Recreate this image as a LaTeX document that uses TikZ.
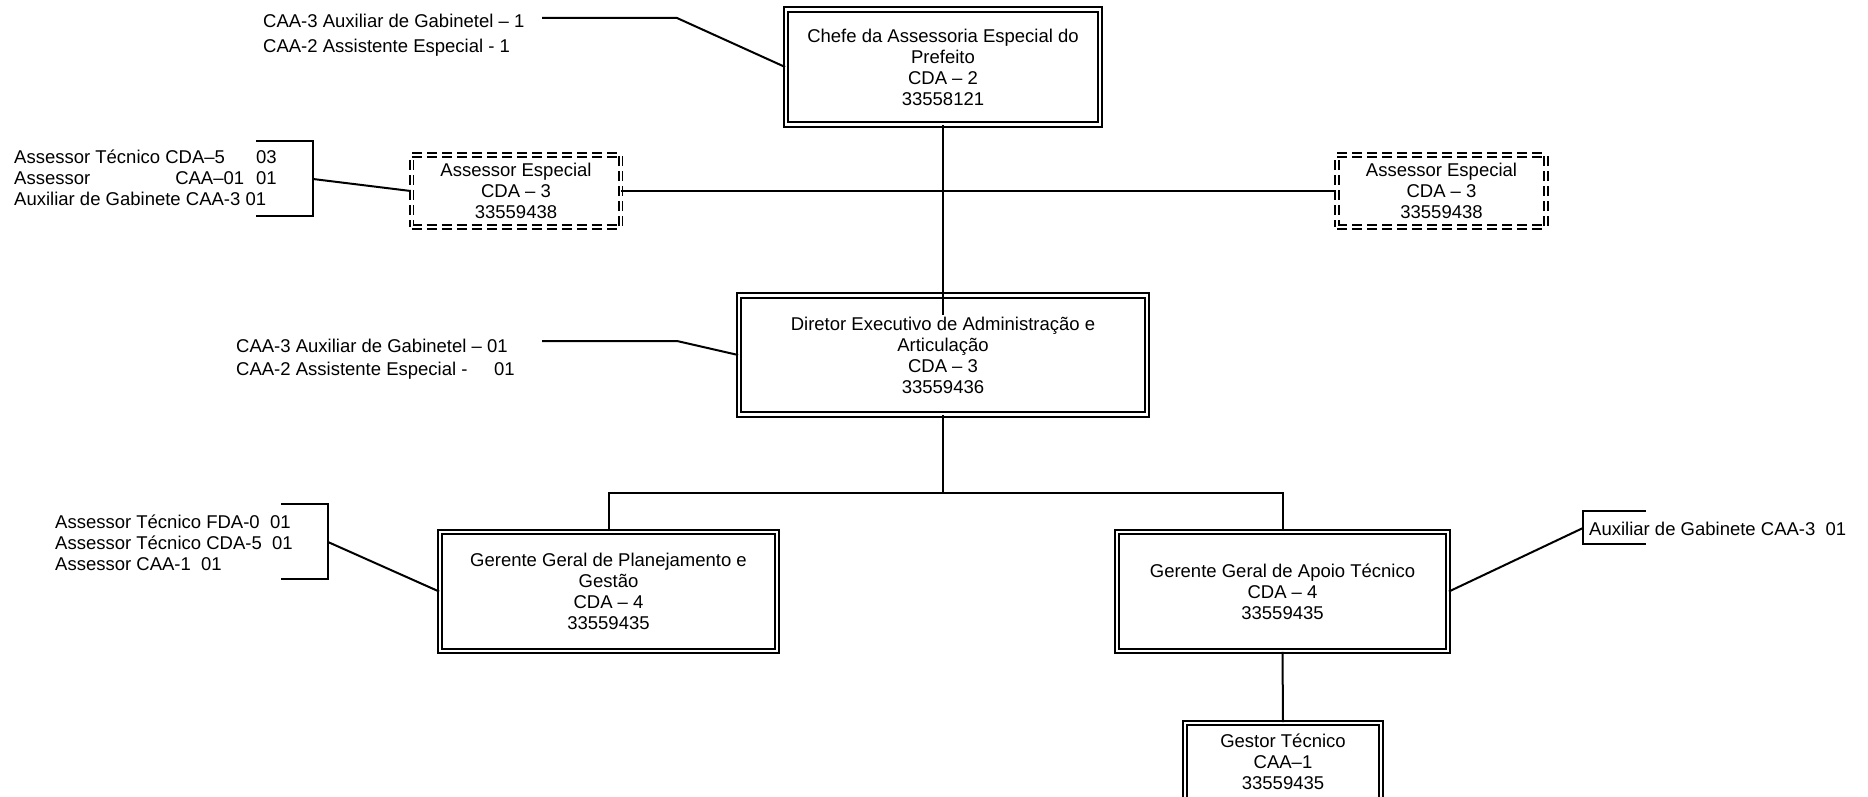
\documentclass[tikz,border=0pt]{standalone}
\usepackage{fontspec}
\setmainfont{Liberation Sans}
\begin{document}
\begin{tikzpicture}[x=1pt,y=-1pt,
  txt/.style={font=\fontsize{18.5}{21}\selectfont, inner sep=0pt},
  lbl/.style={txt, anchor=west},
  dbox/.style={txt, draw, double, double distance=2.6pt, line width=1.8pt, align=center, minimum width=#1},
  dashbox/.style={txt, draw, double, double distance=2pt, line width=1.6pt, dash pattern=on 10pt off 5pt, align=center, minimum width=209pt, minimum height=72pt},
  conn/.style={line width=2pt}]
\useasboundingbox (0,0) rectangle (1868,797);

% main boxes
\node[dbox=314pt, minimum height=115pt] (chief) at (943,67) {Chefe da Assessoria Especial do\\Prefeito\\CDA -- 2\\33558121};
\node[dbox=408pt, minimum height=119pt] (dir) at (943,355) {Diretor Executivo de Administração e\\Articulação\\CDA -- 3\\33559436};
\node[dbox=337pt, minimum height=119pt] (ggpg) at (608.5,591.5) {Gerente Geral de Planejamento e\\Gestão\\CDA -- 4\\33559435};
\node[dbox=331pt, minimum height=119pt] (ggat) at (1282.5,591.5) {Gerente Geral de Apoio Técnico\\CDA -- 4\\33559435};
\node[dbox=196pt, minimum height=78pt] (gestor) at (1283,762) {Gestor Técnico\\CAA--1\\33559435};

% dashed boxes
\node[dashbox] (ae1) at (516,191) {Assessor Especial\\CDA -- 3\\33559438};
\node[dashbox] (ae2) at (1441.5,191) {Assessor Especial\\CDA -- 3\\33559438};

% side labels
\node[lbl] (t1) at (263,21) {CAA-3 Auxiliar de Gabinetel -- 1};
\node[lbl] (t2) at (263,48) {CAA-2 Assistente Especial - 1};

\node[lbl] (l1) at (14,157) {\makebox[242pt][l]{Assessor Técnico CDA--5}03};
\node[lbl] (l2) at (14,178) {\makebox[230pt][l]{Assessor\hfill CAA--01}\hspace{12pt}01};
\node[lbl] (l3) at (14,199) {Auxiliar de Gabinete CAA-3\ 01};

\node[lbl] (d1) at (236,346) {CAA-3 Auxiliar de Gabinetel -- 01};
\node[lbl] (d2) at (236,371) {\makebox[258pt][l]{CAA-2 Assistente Especial -}01};

\node[lbl] (g1) at (55,522) {Assessor Técnico FDA-0\ \ 01};
\node[lbl] (g2) at (55,543) {Assessor Técnico CDA-5\ \ 01};
\node[lbl] (g3) at (55,564) {Assessor CAA-1\ \ 01};

\node[lbl] (r1) at (1589,529) {Auxiliar de Gabinete CAA-3\ \ 01};

% brackets and coordinates
\coordinate (b1a) at (256,141); \coordinate (b1b) at (313,141);
\coordinate (b1c) at (313,216); \coordinate (b1d) at (256,216);
\coordinate (b1m) at (313,179);
\coordinate (b3a) at (281,504); \coordinate (b3b) at (328,504);
\coordinate (b3c) at (328,579); \coordinate (b3d) at (281,579);
\coordinate (b3m) at (328,542);
\coordinate (r1a) at (1646,511); \coordinate (r1b) at (1583,511);
\coordinate (r1c) at (1583,544); \coordinate (r1d) at (1646,544);
\coordinate (r1m) at (1583,528);
\coordinate (tc0) at (542,18); \coordinate (tc1) at (677,18);
\coordinate (dc0) at (542,341); \coordinate (dc1) at (677,341);
\coordinate (dirin) at (943,315);

% connectors
\draw[conn] (b1a) -- (b1b) -- (b1c) -- (b1d);
\draw[conn] (b1m) -- (ae1.west);
\draw[conn] (b3a) -- (b3b) -- (b3c) -- (b3d);
\draw[conn] (b3m) -- (ggpg.west);
\draw[conn] (r1a) -- (r1b) -- (r1c) -- (r1d);
\draw[conn] (r1m) -- (ggat.east);
\draw[conn] (tc0) -- (tc1) -- (chief.west);
\draw[conn] (dc0) -- (dc1) -- (dir.west);
\draw[conn] (ae1.east) -- (ae2.west);
\draw[conn] (chief.south) -- (dirin);
\draw[conn] (dir.south) -- ++(0,78) coordinate (bus);
\draw[conn] (ggpg.north) |- (bus) -| (ggat.north);
\draw[conn] (ggat.south) -- (gestor.north);
\end{tikzpicture}
\end{document}
